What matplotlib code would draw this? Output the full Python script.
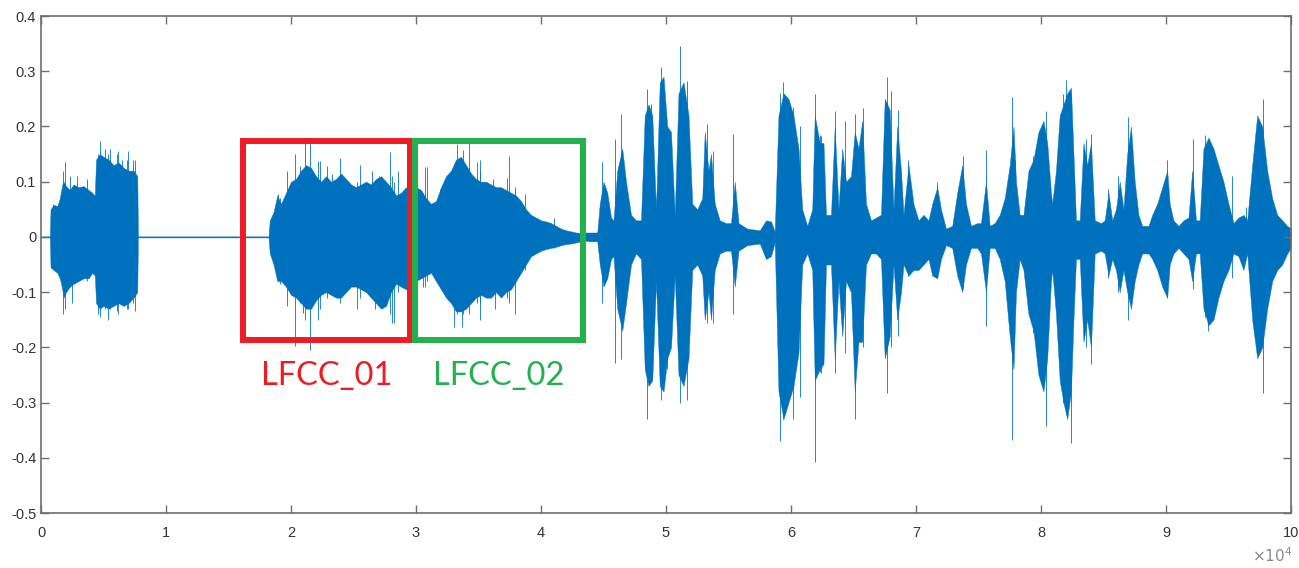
import matplotlib
matplotlib.use("Agg")
import matplotlib.pyplot as plt
from matplotlib.patches import Rectangle

# -----------------------------
# Data
# -----------------------------
# envelope of the waveform: sample index, upper and lower amplitude
env_t = [0, 700, 760, 1000, 1300, 1500, 1700, 1800, 2000, 2300, 2600, 3000, 3400, 3800, 4100, 4300,
         4400, 4700, 5000, 5400, 5800, 6200, 6600, 7000, 7400, 7700, 7750, 18200,
         18300, 18600, 18900, 19200, 19600, 20000, 20400, 20800, 21200, 21600, 22000, 22400, 22800,
         23200, 23600, 24000, 24400, 24800, 25200, 25600, 26000, 26400, 26800, 27200, 27600, 28000,
         28400, 28800, 29200, 29600, 30000, 30400, 30800, 31200, 31600, 32000, 32400, 32800, 33200,
         33600, 34000, 34400, 34800, 35200, 35600, 36000, 36400, 36800, 37200, 37600, 38000, 38400,
         38800, 39200, 39600, 40000, 40400, 40800, 41200, 41600, 42000, 42400, 42800, 43200, 43600,
         44000, 44400,
         44500, 44700, 45000, 45300, 45600, 45800, 46100, 46500, 46800, 47200, 47600, 48000, 48300,
         48600, 48900, 49200, 49500, 49800, 50100, 50400, 50700, 51000, 51400, 51800, 52100, 52500,
         52900, 53100, 53400, 53600, 53900, 54300, 54800, 55200, 55500, 55800, 56500, 57500, 58000,
         58400, 58700, 59000, 59400, 59800, 60200, 60600, 60900, 61300, 61700, 61900, 62300,
         62600, 62800, 63200, 63500, 63800, 64100, 64400, 64800, 65100, 65400, 65700, 66000, 66400,
         66800, 67200, 67500, 67900, 68200, 68500, 68800, 69000, 69400, 69800, 70200, 70600, 71000,
         71300, 71700, 72000, 72400, 72900, 73300, 73700, 74000, 74400, 74900, 75200, 75600, 75900,
         76300, 76700, 77100, 77500, 77800, 78000, 78300, 78600, 79000, 79400, 79800, 80200, 80500,
         80800,
         80900, 81200, 81500, 81800, 82100, 82400, 82600, 82800, 83100, 83400, 83700, 84000, 84300,
         84800, 85100, 85400, 85700, 86000, 86300, 86600, 86900, 87200, 87500, 87800, 88100, 88600,
         88900, 89300, 89700, 90100, 90300, 90600, 91000, 91400, 91800, 92100, 92400, 92700, 93000,
         93400, 93800, 94200, 94600, 95000, 95400, 95800, 96200, 96500, 96900, 97300, 97700, 98100,
         98500, 98900, 99300, 99700, 100000]

env_hi = [0.001, 0.001, 0.05, 0.058, 0.056, 0.07, 0.095, 0.10, 0.092, 0.085, 0.095, 0.09, 0.092, 0.085, 0.08, 0.075,
          0.14, 0.15, 0.145, 0.14, 0.13, 0.135, 0.125, 0.12, 0.12, 0.11, 0.001, 0.001,
          0.03, 0.045, 0.075, 0.06, 0.08, 0.10, 0.105, 0.12, 0.13, 0.125, 0.11, 0.10, 0.11,
          0.10, 0.105, 0.115, 0.105, 0.095, 0.09, 0.095, 0.10, 0.095, 0.105, 0.11, 0.10, 0.09,
          0.075, 0.08, 0.09, 0.085, 0.09, 0.085, 0.07, 0.06, 0.065, 0.09, 0.11, 0.12, 0.14,
          0.145, 0.13, 0.115, 0.105, 0.10, 0.10, 0.095, 0.09, 0.09, 0.085, 0.08, 0.075, 0.065,
          0.05, 0.04, 0.035, 0.03, 0.028, 0.025, 0.02, 0.015, 0.012, 0.01, 0.008, 0.007, 0.008,
          0.008, 0.008,
          0.008, 0.06, 0.10, 0.08, 0.035, 0.03, 0.12, 0.16, 0.10, 0.04, 0.03, 0.03, 0.22,
          0.24, 0.22, 0.05, 0.28, 0.29, 0.20, 0.19, 0.04, 0.26, 0.28, 0.22, 0.06, 0.05,
          0.07, 0.19, 0.12, 0.15, 0.06, 0.03, 0.025, 0.025, 0.10, 0.025, 0.015, 0.012, 0.03,
          0.028, 0.01, 0.22, 0.26, 0.25, 0.22, 0.16, 0.05, 0.02, 0.05, 0.22, 0.17,
          0.17, 0.04, 0.04, 0.20, 0.05, 0.16, 0.10, 0.11, 0.19, 0.16, 0.21, 0.06, 0.03,
          0.035, 0.04, 0.25, 0.23, 0.05, 0.20, 0.12, 0.04, 0.13, 0.06, 0.03, 0.04, 0.03,
          0.06, 0.09, 0.05, 0.015, 0.02, 0.08, 0.13, 0.06, 0.02, 0.025, 0.025, 0.10, 0.02,
          0.025, 0.04, 0.07, 0.13, 0.20, 0.10, 0.04, 0.04, 0.12, 0.14, 0.19, 0.21, 0.17,
          0.08,
          0.06, 0.12, 0.22, 0.24, 0.26, 0.27, 0.15, 0.03, 0.03, 0.17, 0.13, 0.17, 0.03,
          0.025, 0.03, 0.08, 0.03, 0.05, 0.10, 0.05, 0.15, 0.20, 0.10, 0.04, 0.02, 0.02,
          0.04, 0.06, 0.09, 0.12, 0.06, 0.03, 0.02, 0.03, 0.035, 0.12, 0.03, 0.03, 0.16,
          0.18, 0.16, 0.13, 0.10, 0.06, 0.025, 0.035, 0.04, 0.03, 0.13, 0.22, 0.20, 0.12,
          0.07, 0.04, 0.03, 0.02, 0.015]

env_lo = [-0.001, -0.001, -0.055, -0.06, -0.065, -0.075, -0.095, -0.11, -0.10, -0.09, -0.085, -0.08, -0.075, -0.075, -0.065, -0.07,
          -0.12, -0.13, -0.125, -0.13, -0.125, -0.12, -0.125, -0.12, -0.11, -0.10, -0.001, -0.001,
          -0.03, -0.05, -0.08, -0.08, -0.09, -0.105, -0.11, -0.12, -0.13, -0.13, -0.115, -0.105, -0.10,
          -0.105, -0.11, -0.11, -0.10, -0.09, -0.09, -0.095, -0.10, -0.11, -0.12, -0.13, -0.125, -0.10,
          -0.085, -0.09, -0.095, -0.09, -0.08, -0.075, -0.07, -0.065, -0.08, -0.095, -0.11, -0.12, -0.135,
          -0.135, -0.13, -0.12, -0.11, -0.105, -0.11, -0.11, -0.10, -0.11, -0.10, -0.095, -0.08, -0.065,
          -0.05, -0.035, -0.03, -0.025, -0.022, -0.02, -0.018, -0.015, -0.013, -0.012, -0.01, -0.008, -0.007,
          -0.008, -0.008,
          -0.008, -0.05, -0.09, -0.075, -0.04, -0.035, -0.13, -0.17, -0.12, -0.05, -0.03, -0.04, -0.24,
          -0.27, -0.26, -0.08, -0.27, -0.28, -0.22, -0.20, -0.07, -0.25, -0.27, -0.22, -0.06, -0.05,
          -0.07, -0.15, -0.10, -0.15, -0.06, -0.03, -0.025, -0.025, -0.09, -0.025, -0.015, -0.012, -0.04,
          -0.035, -0.01, -0.28, -0.33, -0.30, -0.27, -0.21, -0.05, -0.03, -0.06, -0.26, -0.24,
          -0.23, -0.05, -0.05, -0.22, -0.08, -0.18, -0.08, -0.10, -0.28, -0.19, -0.19, -0.05, -0.03,
          -0.03, -0.04, -0.22, -0.18, -0.05, -0.15, -0.10, -0.05, -0.07, -0.06, -0.06, -0.05, -0.04,
          -0.07, -0.075, -0.04, -0.015, -0.02, -0.07, -0.10, -0.05, -0.02, -0.02, -0.03, -0.10, -0.02,
          -0.02, -0.04, -0.08, -0.18, -0.24, -0.10, -0.04, -0.06, -0.14, -0.17, -0.25, -0.28, -0.22,
          -0.08,
          -0.06, -0.14, -0.26, -0.30, -0.33, -0.28, -0.15, -0.04, -0.04, -0.19, -0.15, -0.20, -0.03,
          -0.025, -0.03, -0.07, -0.04, -0.06, -0.10, -0.06, -0.10, -0.13, -0.08, -0.05, -0.03, -0.03,
          -0.04, -0.06, -0.09, -0.11, -0.05, -0.03, -0.02, -0.03, -0.04, -0.08, -0.03, -0.03, -0.13,
          -0.16, -0.15, -0.11, -0.08, -0.06, -0.03, -0.035, -0.06, -0.03, -0.15, -0.22, -0.20, -0.13,
          -0.08, -0.06, -0.05, -0.03, -0.02]

# isolated spikes poking out of the envelope: sample index, top, bottom
spike_t = [960, 1760, 1920, 2320, 2480, 2880, 3680, 4560, 4720, 5120, 5360, 5520, 6080, 6160, 6480,
           6880, 6960, 7360, 7520,
           18960, 19120, 19680, 20320, 20720, 20960, 21100, 21500, 22160, 22300, 22880, 23280, 23900,
           25280, 25500, 26480, 26720, 27000, 27900, 28080, 28200, 28560, 29300, 30560, 30700, 30880,
           31920, 33000, 33300, 33680, 33760, 34200, 34880, 35100, 35120, 36160, 36320, 37280, 37400,
           37900, 38720, 41000,
           44900, 45900, 46400, 48500, 48800, 49600, 50100, 51100, 51700, 53300, 53800, 55400,
           59100, 59400, 60200, 60700, 61900, 62300,
           62400, 63500, 64300, 65100, 65800, 67700, 68000, 68600, 69400, 71700, 73800, 75600,
           77700, 77900, 79400, 80400,
           81800, 82000, 82400, 83600, 84000, 85400, 86200, 87000, 90100, 92200, 93100, 93400,
           95300, 96400, 97800]
spike_hi = [0.06, 0.12, 0.135, 0.11, 0.09, 0.11, 0.105, 0.15, 0.174, 0.16, 0.15, 0.16, 0.15, 0.155, 0.14,
            0.14, 0.155, 0.14, 0.14,
            0.077, 0.07, 0.12, 0.15, 0.128, 0.12, 0.17, 0.17, 0.137, 0.137, 0.128, 0.114, 0.143,
            0.10, 0.13, 0.12, 0.10, 0.11, 0.153, 0.11, 0.10, 0.12, 0.117, 0.08, 0.126, 0.126,
            0.086, 0.12, 0.168, 0.14, 0.158, 0.17, 0.135, 0.14, 0.12, 0.104, 0.09, 0.107, 0.146,
            0.09, 0.077, 0.035,
            0.135, 0.177, 0.222, 0.267, 0.24, 0.307, 0.20, 0.346, 0.282, 0.204, 0.155, 0.186,
            0.26, 0.28, 0.235, 0.20, 0.258, 0.185,
            0.182, 0.228, 0.209, 0.222, 0.234, 0.289, 0.264, 0.23, 0.14, 0.10, 0.146, 0.158,
            0.254, 0.14, 0.146, 0.228,
            0.258, 0.285, 0.26, 0.177, 0.186, 0.086, 0.11, 0.218, 0.14, 0.177, 0.185, 0.17,
            0.11, 0.055, 0.25]
spike_lo = [-0.05, -0.14, -0.13, -0.09, -0.12, -0.08, -0.08, -0.14, -0.145, -0.13, -0.15, -0.13, -0.135, -0.14, -0.12,
            -0.13, -0.13, -0.12, -0.135,
            -0.07, -0.085, -0.125, -0.198, -0.12, -0.137, -0.15, -0.205, -0.15, -0.13, -0.11, -0.10, -0.12,
            -0.13, -0.11, -0.11, -0.13, -0.12, -0.14, -0.155, -0.155, -0.10, -0.10, -0.09, -0.09, -0.08,
            -0.07, -0.164, -0.14, -0.164, -0.14, -0.14, -0.12, -0.12, -0.15, -0.10, -0.13, -0.11, -0.12,
            -0.14, -0.06, -0.02,
            -0.12, -0.228, -0.222, -0.33, -0.26, -0.295, -0.24, -0.30, -0.295, -0.155, -0.155, -0.14,
            -0.37, -0.33, -0.33, -0.29, -0.407, -0.245,
            -0.246, -0.246, -0.21, -0.33, -0.20, -0.283, -0.20, -0.18, -0.07, -0.075, -0.092, -0.162,
            -0.367, -0.12, -0.174, -0.343,
            -0.30, -0.32, -0.373, -0.20, -0.23, -0.075, -0.10, -0.15, -0.11, -0.095, -0.145, -0.17,
            -0.075, -0.035, -0.283]

# highlighted frames: name, start, end, bottom, top
box_names = ["LFCC_01", "LFCC_02"]
box_start = [16150, 29950]
box_end = [29550, 43350]
box_bottom = [-0.186, -0.186]
box_top = [0.173, 0.173]
box_colors = ["#ED1C24", "#22B14C"]

x_ticks = [0, 10000, 20000, 30000, 40000, 50000, 60000, 70000, 80000, 90000, 100000]
x_ticklabels = ["0", "1", "2", "3", "4", "5", "6", "7", "8", "9", "10"]
y_ticks = [-0.5, -0.4, -0.3, -0.2, -0.1, 0, 0.1, 0.2, 0.3, 0.4]
y_ticklabels = ["-0.5", "-0.4", "-0.3", "-0.2", "-0.1", "0", "0.1", "0.2", "0.3", "0.4"]

# -----------------------------
# Plot
# -----------------------------
plt.rcParams['axes.unicode_minus'] = False
plt.rcParams['font.family'] = ['Liberation Sans', 'DejaVu Sans']

wave_color = "#0072BD"
axis_gray = "#6e6e6e"

fig = plt.figure(figsize=(12.99, 5.68), dpi=100)
ax = fig.add_axes([0.0316, 0.0968, 0.9622, 0.875])

ax.fill_between(env_t, env_lo, env_hi, color=wave_color, linewidth=0.3)
ax.vlines(spike_t, spike_lo, spike_hi, color=wave_color, linewidth=0.7, alpha=0.85)

for name, x0, x1, y0, y1, c in zip(box_names, box_start, box_end, box_bottom, box_top, box_colors):
    ax.add_patch(Rectangle((x0, y0), x1 - x0, y1 - y0, fill=False, edgecolor=c,
                           linewidth=4.3, joinstyle='miter', zorder=3))
    ax.text((x0 + x1) / 2, -0.252, name, color=c, fontsize=23.5, ha='center', va='center',
            family=['Lato', 'DejaVu Sans'])

ax.set_xlim(0, 100000)
ax.set_ylim(-0.5, 0.4)
ax.set_xticks(x_ticks)
ax.set_xticklabels(x_ticklabels)
ax.set_yticks(y_ticks)
ax.set_yticklabels(y_ticklabels)

ax.tick_params(direction='in', length=6, width=1, colors=axis_gray, labelcolor="#333333",
               labelsize=10.5, top=True, right=True)
ax.tick_params(axis='x', pad=9)
for s in ax.spines.values():
    s.set_color(axis_gray)
    s.set_linewidth(1.2)

# MATLAB style exponent under the right end of the x axis
fig.text(0.9946, 0.006, r"$\times10^{4}$", color="#8a8a8a", fontsize=11, ha='right', va='bottom')

fig.savefig("out.png", dpi=100)
